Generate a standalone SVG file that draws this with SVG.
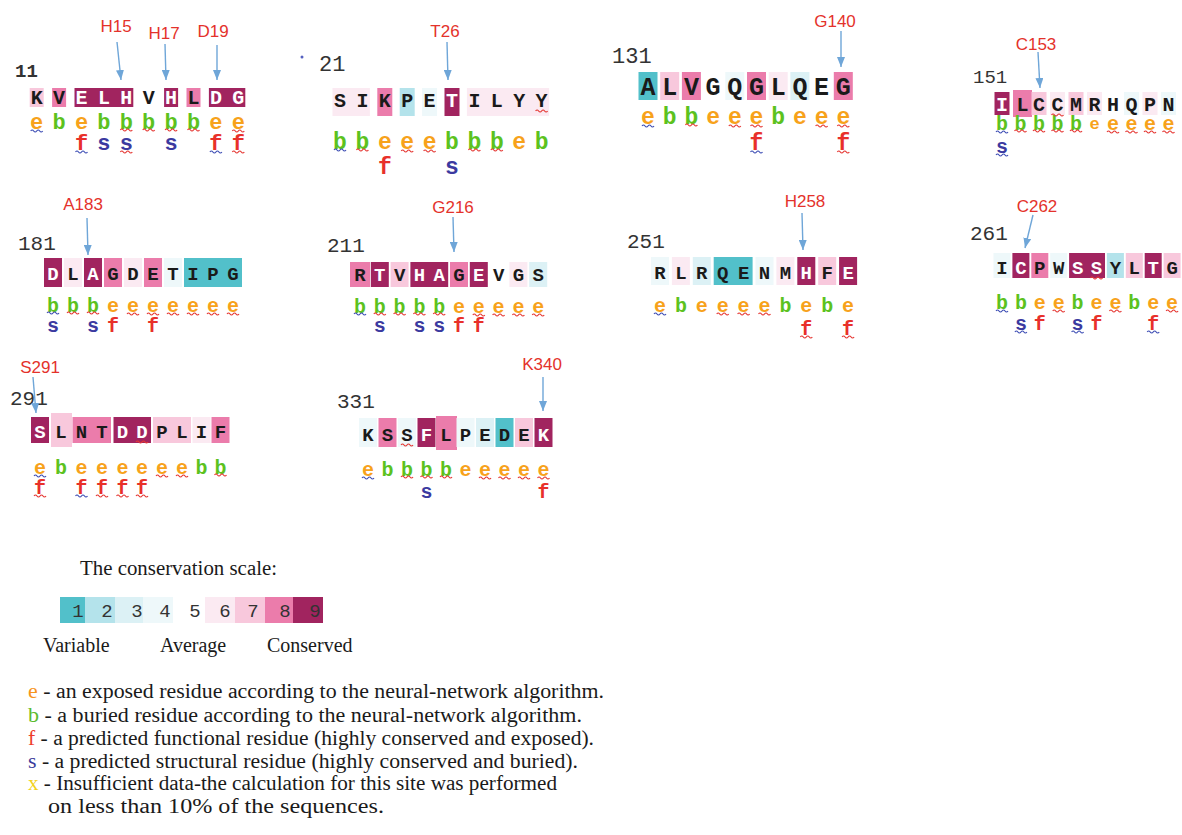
<svg xmlns="http://www.w3.org/2000/svg" xmlns:xlink="http://www.w3.org/1999/xlink" width="1182" height="835" viewBox="0 0 1182 835">
<style>
.g1{fill:#52C0CA}.g2{fill:#B4E3EB}.g3{fill:#DCF1F5}.g4{fill:#EEF8FA}.g6{fill:#FBEAF2}.g7{fill:#F8C8DC}.g8{fill:#EB7CAB}.g9{fill:#A1245F}
.r{font-family:"Liberation Mono",monospace;font-weight:bold;text-anchor:middle;fill:#1a1a1a}
.r .w,.w{fill:#ffffff}
.m{font-family:"Liberation Mono",monospace;font-weight:bold;text-anchor:middle}
.e{fill:#F7A21B}.b{fill:#5CC21E}.f{fill:#E8302A}.s{fill:#3B3AA0}
.num{font-family:"Liberation Mono",monospace;fill:#333}
.lab{font-family:"Liberation Sans",Arial,sans-serif;font-size:17px;fill:#E4322B;text-anchor:middle}
.arr line{stroke:#6FA6D8;stroke-width:1.4;marker-end:url(#ah)}
.wr{stroke:#E53935}.wb{stroke:#3F4FB5}
.leg{font-family:"Liberation Serif","Times New Roman",serif;font-size:20px;fill:#1a1a1a}
.sc{font-family:"Liberation Mono",monospace;font-size:19px;fill:#333;text-anchor:middle}
</style>
<defs>
<marker id="ah" markerUnits="userSpaceOnUse" markerWidth="10" markerHeight="8" refX="10" refY="4" orient="auto"><path d="M0,0 L10,4 L0,8 z" fill="#6FA6D8"/></marker>
<path id="wv" d="M0,0 q1.5,-2 3,0 t3,0 t3,0 t3,0" fill="none" stroke-width="1.2"/>
</defs>
<rect width="1182" height="835" fill="#ffffff"/>

<!-- Block 11 -->
<g id="block-11">
<text class="num" x="15" y="77" font-size="19" font-weight="bold" fill="#555">11</text>
<rect class="g7" x="29.7" y="88" width="14" height="19"/>
<rect class="g8" x="52.1" y="88" width="14" height="19"/>
<rect class="g9" x="74.5" y="88" width="58.8" height="19"/>
<rect class="g9" x="164.1" y="88" width="14" height="19"/>
<rect class="g8" x="186.5" y="88" width="14" height="19"/>
<rect class="g9" x="208.9" y="88" width="36.4" height="19"/>
<g class="r" font-size="20">
<text x="36.7" y="104">K</text><text x="59.1" y="104">V</text><text class="w" x="81.5" y="104">E</text><text class="w" x="103.9" y="104">L</text><text class="w" x="126.3" y="104">H</text><text x="148.7" y="104">V</text><text class="w" x="171.1" y="104">H</text><text x="193.5" y="104">L</text><text class="w" x="215.9" y="104">D</text><text class="w" x="238.3" y="104">G</text>
</g>
<g class="m" font-size="22">
<text class="e" x="36.7" y="129">e</text><text class="b" x="59.1" y="129">b</text><text class="e" x="81.5" y="129">e</text><text class="b" x="103.9" y="129">b</text><text class="b" x="126.3" y="129">b</text><text class="b" x="148.7" y="129">b</text><text class="b" x="171.1" y="129">b</text><text class="b" x="193.5" y="129">b</text><text class="e" x="215.9" y="129">e</text><text class="e" x="238.3" y="129">e</text>
<text class="f" x="81.5" y="150">f</text><text class="s" x="103.9" y="150">s</text><text class="s" x="126.3" y="150">s</text><text class="s" x="171.1" y="150">s</text><text class="f" x="215.9" y="150">f</text><text class="f" x="238.3" y="150">f</text>
</g>
<use xlink:href="#wv" class="wb" x="30.7" y="131"/><use xlink:href="#wv" class="wr" x="120.3" y="130"/><use xlink:href="#wv" class="wr" x="142.7" y="130"/><use xlink:href="#wv" class="wr" x="165.1" y="130"/><use xlink:href="#wv" class="wr" x="187.5" y="130"/><use xlink:href="#wv" class="wr" x="232.3" y="131"/>
<use xlink:href="#wv" class="wb" x="75.5" y="152"/><use xlink:href="#wv" class="wr" x="120.3" y="152"/><use xlink:href="#wv" class="wb" x="209.9" y="152"/><use xlink:href="#wv" class="wr" x="232.3" y="152"/>
</g>

<!-- Block 21 -->
<g id="block-21">
<circle cx="302" cy="57" r="1.5" fill="#5560C0"/>
<text class="num" x="319" y="71" font-size="22">21</text>
<rect class="g6" x="332.5" y="88" width="37.4" height="28"/>
<rect class="g8" x="377.3" y="88" width="15" height="28"/>
<rect class="g2" x="399.7" y="88" width="15" height="28"/>
<rect class="g4" x="422.1" y="88" width="15" height="28"/>
<rect class="g9" x="444.5" y="88" width="15" height="28"/>
<rect class="g6" x="466.9" y="88" width="82.2" height="28"/>
<g class="r" font-size="20">
<text x="340" y="107">S</text><text x="362.4" y="107">I</text><text x="384.8" y="107">K</text><text x="407.2" y="107">P</text><text x="429.6" y="107">E</text><text class="w" x="452" y="107">T</text><text x="474.4" y="107">I</text><text x="496.8" y="107">L</text><text x="519.2" y="107">Y</text><text x="541.6" y="107">Y</text>
</g>
<g class="m" font-size="23">
<text class="b" x="340" y="149">b</text><text class="b" x="362.4" y="149">b</text><text class="e" x="384.8" y="149">e</text><text class="e" x="407.2" y="149">e</text><text class="e" x="429.6" y="149">e</text><text class="b" x="452" y="149">b</text><text class="b" x="474.4" y="149">b</text><text class="b" x="496.8" y="149">b</text><text class="e" x="519.2" y="149">e</text><text class="b" x="541.6" y="149">b</text>
<text class="f" x="384.8" y="174">f</text><text class="s" x="452" y="174">s</text>
</g>
<use xlink:href="#wv" class="wr" x="535.6" y="111"/>
<use xlink:href="#wv" class="wb" x="334" y="150"/><use xlink:href="#wv" class="wr" x="356.4" y="150"/><use xlink:href="#wv" class="wr" x="401.2" y="151"/><use xlink:href="#wv" class="wr" x="423.6" y="151"/><use xlink:href="#wv" class="wr" x="468.4" y="150"/><use xlink:href="#wv" class="wr" x="490.8" y="150"/>
</g>

<!-- Block 131 -->
<g id="block-131">
<text class="num" x="612" y="63" font-size="22">131</text>
<rect class="g1" x="638.5" y="72" width="19" height="28"/>
<rect class="g7" x="660.2" y="72" width="19" height="28"/>
<rect class="g8" x="681.9" y="72" width="19" height="28"/>
<rect class="g4" x="725.3" y="72" width="19" height="28"/>
<rect class="g8" x="747" y="72" width="19" height="28"/>
<rect class="g6" x="768.7" y="72" width="19" height="28"/>
<rect class="g3" x="790.4" y="72" width="19" height="28"/>
<rect class="g8" x="833.8" y="72" width="19" height="28"/>
<g class="r" font-size="25">
<text x="648" y="95">A</text><text x="669.7" y="95">L</text><text x="691.4" y="95">V</text><text x="713.1" y="95">G</text><text x="734.8" y="95">Q</text><text x="756.5" y="95">G</text><text x="778.2" y="95">L</text><text x="799.9" y="95">Q</text><text x="821.6" y="95">E</text><text x="843.3" y="95">G</text>
</g>
<g class="m" font-size="23">
<text class="e" x="648" y="124">e</text><text class="b" x="669.7" y="124">b</text><text class="b" x="691.4" y="124">b</text><text class="e" x="713.1" y="124">e</text><text class="e" x="734.8" y="124">e</text><text class="e" x="756.5" y="124">e</text><text class="b" x="778.2" y="124">b</text><text class="e" x="799.9" y="124">e</text><text class="e" x="821.6" y="124">e</text><text class="e" x="843.3" y="124">e</text>
<text class="f" x="756.5" y="150">f</text><text class="f" x="843.3" y="150">f</text>
</g>
<use xlink:href="#wv" class="wb" x="642" y="126"/><use xlink:href="#wv" class="wr" x="685.4" y="125"/><use xlink:href="#wv" class="wr" x="728.8" y="126"/><use xlink:href="#wv" class="wr" x="750.5" y="126"/><use xlink:href="#wv" class="wr" x="815.6" y="126"/><use xlink:href="#wv" class="wr" x="837.3" y="126"/>
<use xlink:href="#wv" class="wb" x="750.5" y="152"/><use xlink:href="#wv" class="wr" x="837.3" y="152"/>
</g>

<!-- Block 151 -->
<g id="block-151">
<text class="num" x="973" y="83" font-size="19">151</text>
<rect class="g9" x="994.5" y="92" width="15" height="23"/>
<rect class="g8" x="1013" y="90" width="19" height="27"/>
<rect class="g7" x="1031.5" y="92" width="15" height="23"/>
<rect class="g6" x="1050" y="92" width="15" height="23"/>
<rect class="g7" x="1068.5" y="92" width="15" height="23"/>
<rect class="g6" x="1087" y="92" width="15" height="23"/>
<rect class="g4" x="1124" y="92" width="15" height="23"/>
<rect class="g6" x="1142.5" y="92" width="15" height="23"/>
<rect class="g4" x="1161" y="92" width="15" height="23"/>
<g class="r" font-size="20">
<text class="w" x="1002" y="111">I</text><text x="1022.5" y="111">L</text><text x="1039" y="111">C</text><text x="1057.5" y="111">C</text><text x="1076" y="111">M</text><text x="1094.5" y="111">R</text><text x="1113" y="111">H</text><text x="1131.5" y="111">Q</text><text x="1150" y="111">P</text><text x="1168.5" y="111">N</text>
</g>
<g class="m" font-size="20">
<text class="b" x="1002" y="130">b</text><text class="b" x="1020.5" y="130">b</text><text class="b" x="1039" y="130">b</text><text class="b" x="1057.5" y="130">b</text><text class="b" x="1076" y="130">b</text><text class="e" x="1094.5" y="129" font-size="17">e</text><text class="e" x="1113" y="130">e</text><text class="e" x="1131.5" y="130">e</text><text class="e" x="1150" y="130">e</text><text class="e" x="1168.5" y="130">e</text>
<text class="s" x="1002" y="153">s</text>
</g>
<use xlink:href="#wv" class="wr" x="1051.5" y="115"/>
<use xlink:href="#wv" class="wb" x="996" y="132"/><use xlink:href="#wv" class="wr" x="1014.5" y="131"/><use xlink:href="#wv" class="wr" x="1033" y="131"/><use xlink:href="#wv" class="wr" x="1051.5" y="131"/><use xlink:href="#wv" class="wr" x="1070" y="131"/><use xlink:href="#wv" class="wr" x="1107" y="132"/><use xlink:href="#wv" class="wr" x="1125.5" y="132"/><use xlink:href="#wv" class="wr" x="1144" y="132"/><use xlink:href="#wv" class="wr" x="1162.5" y="132"/>
<use xlink:href="#wv" class="wb" x="996" y="155"/>
</g>

<!-- Block 181 -->
<g id="block-181">
<text class="num" x="18" y="250" font-size="21">181</text>
<rect class="g9" x="44" y="258" width="18" height="29"/>
<rect class="g6" x="64" y="258" width="18" height="29"/>
<rect class="g9" x="84" y="258" width="18" height="29"/>
<rect class="g8" x="104" y="258" width="18" height="29"/>
<rect class="g6" x="124" y="258" width="18" height="29"/>
<rect class="g8" x="144" y="258" width="18" height="29"/>
<rect class="g4" x="164" y="258" width="18" height="29"/>
<rect class="g1" x="184" y="258" width="58" height="29"/>
<g class="r" font-size="19">
<text class="w" x="53" y="280">D</text><text x="73" y="280">L</text><text class="w" x="93" y="280">A</text><text x="113" y="280">G</text><text x="133" y="280">D</text><text x="153" y="280">E</text><text x="173" y="280">T</text><text x="193" y="280">I</text><text x="213" y="280">P</text><text x="233" y="280">G</text>
</g>
<g class="m" font-size="20">
<text class="b" x="53" y="312">b</text><text class="b" x="73" y="312">b</text><text class="b" x="93" y="312">b</text><text class="e" x="113" y="312">e</text><text class="e" x="133" y="312">e</text><text class="e" x="153" y="312">e</text><text class="e" x="173" y="312">e</text><text class="e" x="193" y="312">e</text><text class="e" x="213" y="312">e</text><text class="e" x="233" y="312">e</text>
<text class="s" x="53" y="332">s</text><text class="s" x="93" y="332">s</text><text class="f" x="113" y="332">f</text><text class="f" x="153" y="332">f</text>
</g>
<use xlink:href="#wv" class="wb" x="47" y="313"/><use xlink:href="#wv" class="wr" x="67" y="313"/><use xlink:href="#wv" class="wr" x="87" y="313"/><use xlink:href="#wv" class="wr" x="127" y="314"/><use xlink:href="#wv" class="wr" x="147" y="314"/><use xlink:href="#wv" class="wr" x="167" y="314"/><use xlink:href="#wv" class="wr" x="187" y="314"/><use xlink:href="#wv" class="wr" x="207" y="314"/><use xlink:href="#wv" class="wr" x="227" y="314"/>
</g>

<!-- Block 211 -->
<g id="block-211">
<text class="num" x="327" y="252" font-size="21">211</text>
<rect class="g8" x="350" y="262" width="20" height="25"/>
<rect class="g9" x="370.8" y="262" width="18" height="25"/>
<rect class="g7" x="390.6" y="262" width="18" height="25"/>
<rect class="g9" x="410.4" y="262" width="37.8" height="25"/>
<rect class="g8" x="450" y="262" width="18" height="25"/>
<rect class="g9" x="469.8" y="262" width="18" height="25"/>
<rect class="g6" x="509.4" y="262" width="18" height="25"/>
<rect class="g3" x="529.2" y="262" width="18" height="25"/>
<g class="r" font-size="19">
<text x="360" y="281">R</text><text class="w" x="379.8" y="281">T</text><text x="399.6" y="281">V</text><text class="w" x="419.4" y="281">H</text><text class="w" x="439.2" y="281">A</text><text x="459" y="281">G</text><text class="w" x="478.8" y="281">E</text><text x="498.6" y="281">V</text><text x="518.4" y="281">G</text><text x="538.2" y="281">S</text>
</g>
<g class="m" font-size="20">
<text class="b" x="360" y="313">b</text><text class="b" x="379.8" y="313">b</text><text class="b" x="399.6" y="313">b</text><text class="b" x="419.4" y="313">b</text><text class="b" x="439.2" y="313">b</text><text class="e" x="459" y="313">e</text><text class="e" x="478.8" y="313">e</text><text class="e" x="498.6" y="313">e</text><text class="e" x="518.4" y="313">e</text><text class="e" x="538.2" y="313">e</text>
<text class="s" x="379.8" y="332">s</text><text class="s" x="419.4" y="332">s</text><text class="s" x="439.2" y="332">s</text><text class="f" x="459" y="332">f</text><text class="f" x="478.8" y="332">f</text>
</g>
<use xlink:href="#wv" class="wb" x="354" y="314"/><use xlink:href="#wv" class="wr" x="373.8" y="314"/><use xlink:href="#wv" class="wr" x="393.6" y="314"/><use xlink:href="#wv" class="wr" x="413.4" y="314"/><use xlink:href="#wv" class="wr" x="433.2" y="314"/><use xlink:href="#wv" class="wr" x="472.8" y="315"/><use xlink:href="#wv" class="wr" x="492.6" y="315"/><use xlink:href="#wv" class="wr" x="512.4" y="315"/><use xlink:href="#wv" class="wr" x="532.2" y="315"/>
</g>

<!-- Block 251 -->
<g id="block-251">
<text class="num" x="627" y="248" font-size="21">251</text>
<rect class="g4" x="651" y="257" width="18" height="28"/>
<rect class="g6" x="671.9" y="257" width="18" height="28"/>
<rect class="g3" x="692.8" y="257" width="18" height="28"/>
<rect class="g1" x="713.7" y="257" width="38.9" height="28"/>
<rect class="g4" x="755.5" y="257" width="18" height="28"/>
<rect class="g6" x="776.4" y="257" width="18" height="28"/>
<rect class="g9" x="797.3" y="257" width="18" height="28"/>
<rect class="g7" x="818.2" y="257" width="18" height="28"/>
<rect class="g9" x="839.1" y="257" width="18" height="28"/>
<g class="r" font-size="19">
<text x="660" y="279">R</text><text x="680.9" y="279">L</text><text x="701.8" y="279">R</text><text x="722.7" y="279">Q</text><text x="743.6" y="279">E</text><text x="764.5" y="279">N</text><text x="785.4" y="279">M</text><text class="w" x="806.3" y="279">H</text><text x="827.2" y="279">F</text><text class="w" x="848.1" y="279">E</text>
</g>
<g class="m" font-size="20">
<text class="e" x="660" y="312">e</text><text class="b" x="680.9" y="312">b</text><text class="e" x="701.8" y="312">e</text><text class="e" x="722.7" y="312">e</text><text class="e" x="743.6" y="312">e</text><text class="e" x="764.5" y="312">e</text><text class="b" x="785.4" y="312">b</text><text class="e" x="806.3" y="312">e</text><text class="b" x="827.2" y="312">b</text><text class="e" x="848.1" y="312">e</text>
<text class="f" x="806.3" y="335">f</text><text class="f" x="848.1" y="335">f</text>
</g>
<use xlink:href="#wv" class="wb" x="654" y="314"/><use xlink:href="#wv" class="wr" x="716.7" y="314"/><use xlink:href="#wv" class="wr" x="737.6" y="314"/><use xlink:href="#wv" class="wr" x="758.5" y="314"/>
<use xlink:href="#wv" class="wr" x="800.3" y="337"/><use xlink:href="#wv" class="wr" x="842.1" y="337"/>
</g>

<!-- Block 261 -->
<g id="block-261">
<text class="num" x="970" y="240" font-size="21">261</text>
<rect class="g4" x="993.5" y="253" width="17" height="25"/>
<rect class="g9" x="1012.4" y="253" width="17" height="25"/>
<rect class="g8" x="1031.3" y="253" width="17" height="25"/>
<rect class="g4" x="1050.2" y="253" width="17" height="25"/>
<rect class="g9" x="1069.1" y="253" width="35.9" height="25"/>
<rect class="g2" x="1106.9" y="253" width="17" height="25"/>
<rect class="g7" x="1125.8" y="253" width="17" height="25"/>
<rect class="g9" x="1144.7" y="253" width="17" height="25"/>
<rect class="g7" x="1163.6" y="253" width="17" height="25"/>
<g class="r" font-size="19">
<text x="1002" y="274">I</text><text class="w" x="1020.9" y="274">C</text><text x="1039.8" y="274">P</text><text x="1058.7" y="274">W</text><text class="w" x="1077.6" y="274">S</text><text class="w" x="1096.5" y="274">S</text><text x="1115.4" y="274">Y</text><text x="1134.3" y="274">L</text><text class="w" x="1153.2" y="274">T</text><text x="1172.1" y="274">G</text>
</g>
<g class="m" font-size="20">
<text class="b" x="1002" y="309">b</text><text class="b" x="1020.9" y="309">b</text><text class="e" x="1039.8" y="309">e</text><text class="e" x="1058.7" y="309">e</text><text class="b" x="1077.6" y="309">b</text><text class="e" x="1096.5" y="309">e</text><text class="e" x="1115.4" y="309">e</text><text class="b" x="1134.3" y="309">b</text><text class="e" x="1153.2" y="309">e</text><text class="e" x="1172.1" y="309">e</text>
<text class="s" x="1020.9" y="330">s</text><text class="f" x="1039.8" y="330">f</text><text class="s" x="1077.6" y="330">s</text><text class="f" x="1096.5" y="330">f</text><text class="f" x="1153.2" y="330">f</text>
</g>
<use xlink:href="#wv" class="wr" x="1090.5" y="278"/>
<use xlink:href="#wv" class="wb" x="996" y="311"/><use xlink:href="#wv" class="wr" x="1052.7" y="311"/><use xlink:href="#wv" class="wr" x="1109.4" y="311"/><use xlink:href="#wv" class="wr" x="1166.1" y="311"/>
<use xlink:href="#wv" class="wb" x="1014.9" y="332"/><use xlink:href="#wv" class="wb" x="1071.6" y="332"/><use xlink:href="#wv" class="wb" x="1147.2" y="332"/>
</g>

<!-- Block 291 -->
<g id="block-291">
<text class="num" x="10" y="405" font-size="21">291</text>
<rect class="g9" x="31" y="417" width="18" height="26"/>
<rect class="g7" x="51" y="413" width="21" height="34"/>
<rect class="g8" x="72.5" y="417" width="38.5" height="26"/>
<rect class="g9" x="113.5" y="417" width="37.5" height="26"/>
<rect class="g7" x="153" y="417" width="38" height="26"/>
<rect class="g6" x="192.5" y="417" width="18" height="26"/>
<rect class="g8" x="211.5" y="417" width="18" height="26"/>
<g class="r" font-size="19">
<text class="w" x="40" y="438">S</text><text x="61" y="438">L</text><text x="81.5" y="438">N</text><text x="102" y="438">T</text><text class="w" x="122.5" y="438">D</text><text class="w" x="142" y="438">D</text><text x="162" y="438">P</text><text x="182" y="438">L</text><text x="201.5" y="438">I</text><text x="220.5" y="438">F</text>
</g>
<g class="m" font-size="20">
<text class="e" x="40" y="474">e</text><text class="b" x="61" y="474">b</text><text class="e" x="81.5" y="474">e</text><text class="e" x="102" y="474">e</text><text class="e" x="122.5" y="474">e</text><text class="e" x="142" y="474">e</text><text class="e" x="162" y="474">e</text><text class="e" x="182" y="474">e</text><text class="b" x="201.5" y="474">b</text><text class="b" x="220.5" y="474">b</text>
<text class="f" x="40" y="494">f</text><text class="f" x="81.5" y="494">f</text><text class="f" x="102" y="494">f</text><text class="f" x="122.5" y="494">f</text><text class="f" x="142" y="494">f</text>
</g>
<use xlink:href="#wv" class="wr" x="136" y="442"/>
<use xlink:href="#wv" class="wb" x="34" y="476"/><use xlink:href="#wv" class="wr" x="156" y="476"/><use xlink:href="#wv" class="wr" x="176" y="476"/><use xlink:href="#wv" class="wr" x="214.5" y="475"/>
<use xlink:href="#wv" class="wr" x="34" y="496"/><use xlink:href="#wv" class="wb" x="75.5" y="496"/><use xlink:href="#wv" class="wr" x="96" y="496"/><use xlink:href="#wv" class="wr" x="116.5" y="496"/><use xlink:href="#wv" class="wr" x="136" y="496"/>
</g>

<!-- Block 331 -->
<g id="block-331">
<text class="num" x="337" y="408" font-size="21">331</text>
<rect class="g4" x="359" y="418" width="18" height="29"/>
<rect class="g8" x="378.5" y="418" width="18" height="29"/>
<rect class="g4" x="398" y="418" width="18" height="29"/>
<rect class="g9" x="417.5" y="418" width="18" height="29"/>
<rect class="g8" x="436" y="416" width="21" height="34"/>
<rect class="g4" x="456.5" y="418" width="18" height="29"/>
<rect class="g3" x="476" y="418" width="18" height="29"/>
<rect class="g1" x="495.5" y="418" width="18" height="29"/>
<rect class="g7" x="515" y="418" width="18" height="29"/>
<rect class="g9" x="534.5" y="418" width="18" height="29"/>
<g class="r" font-size="19">
<text x="368" y="441">K</text><text x="387.5" y="441">S</text><text x="407" y="441">S</text><text class="w" x="426.5" y="441">F</text><text x="446" y="441">L</text><text x="465.5" y="441">P</text><text x="485" y="441">E</text><text x="504.5" y="441">D</text><text x="524" y="441">E</text><text class="w" x="543.5" y="441">K</text>
</g>
<g class="m" font-size="20">
<text class="e" x="368" y="476">e</text><text class="b" x="387.5" y="476">b</text><text class="b" x="407" y="476">b</text><text class="b" x="426.5" y="476">b</text><text class="b" x="446" y="476">b</text><text class="e" x="465.5" y="476">e</text><text class="e" x="485" y="476">e</text><text class="e" x="504.5" y="476">e</text><text class="e" x="524" y="476">e</text><text class="e" x="543.5" y="476">e</text>
<text class="s" x="426.5" y="498">s</text><text class="f" x="543.5" y="498">f</text>
</g>
<use xlink:href="#wv" class="wr" x="401" y="445"/>
<use xlink:href="#wv" class="wb" x="362" y="478"/><use xlink:href="#wv" class="wr" x="401" y="477"/><use xlink:href="#wv" class="wr" x="420.5" y="477"/><use xlink:href="#wv" class="wr" x="440" y="477"/><use xlink:href="#wv" class="wr" x="479" y="478"/><use xlink:href="#wv" class="wr" x="498.5" y="478"/><use xlink:href="#wv" class="wr" x="518" y="478"/><use xlink:href="#wv" class="wr" x="537.5" y="478"/>
</g>

<!-- Site labels -->
<g id="label-H15"><text class="lab" x="116" y="32">H15</text></g>
<g id="label-H17"><text class="lab" x="164" y="39">H17</text></g>
<g id="label-D19"><text class="lab" x="213" y="37">D19</text></g>
<g id="label-T26"><text class="lab" x="445" y="37">T26</text></g>
<g id="label-G140"><text class="lab" x="835" y="27">G140</text></g>
<g id="label-C153"><text class="lab" x="1036" y="50">C153</text></g>
<g id="label-A183"><text class="lab" x="83" y="210">A183</text></g>
<g id="label-G216"><text class="lab" x="453" y="213">G216</text></g>
<g id="label-H258"><text class="lab" x="805" y="207">H258</text></g>
<g id="label-C262"><text class="lab" x="1037" y="212">C262</text></g>
<g id="label-S291"><text class="lab" x="40" y="373">S291</text></g>
<g id="label-K340"><text class="lab" x="542" y="370">K340</text></g>

<!-- Connectors -->
<g id="connectors" class="arr">
<line x1="117" y1="42" x2="121" y2="80"/>
<line x1="165" y1="44" x2="166" y2="80"/>
<line x1="217" y1="45" x2="217" y2="80"/>
<line x1="447" y1="42" x2="448" y2="80"/>
<line x1="841" y1="31" x2="841" y2="67"/>
<line x1="1038" y1="52" x2="1040" y2="88"/>
<line x1="87" y1="218" x2="88" y2="255"/>
<line x1="453" y1="217" x2="454" y2="252"/>
<line x1="802" y1="213" x2="803" y2="250"/>
<line x1="1033" y1="215" x2="1025" y2="248"/>
<line x1="33" y1="377" x2="36" y2="413"/>
<line x1="543" y1="377" x2="543" y2="411"/>
</g>

<!-- Conservation scale -->
<g id="scale">
<text class="leg" x="80" y="575" textLength="197" lengthAdjust="spacingAndGlyphs">The conservation scale:</text>
<rect class="g1" x="60" y="597" width="25" height="26"/>
<rect class="g2" x="85" y="597" width="30" height="26"/>
<rect class="g3" x="115" y="597" width="28" height="26"/>
<rect class="g4" x="143" y="597" width="30" height="26"/>
<rect fill="#ffffff" x="173" y="597" width="32" height="26"/>
<rect class="g6" x="205" y="597" width="30" height="26"/>
<rect class="g7" x="235" y="597" width="30" height="26"/>
<rect class="g8" x="265" y="597" width="28" height="26"/>
<rect class="g9" x="293" y="597" width="30" height="26"/>
<text class="sc" x="78" y="617">1</text><text class="sc" x="107" y="617">2</text><text class="sc" x="137" y="617">3</text><text class="sc" x="165" y="617">4</text><text class="sc" x="195" y="617">5</text><text class="sc" x="225" y="617">6</text><text class="sc" x="253" y="617">7</text><text class="sc" x="285" y="617">8</text><text class="sc w" x="315" y="617">9</text>
<text class="leg" x="43" y="652">Variable</text>
<text class="leg" x="160" y="652">Average</text>
<text class="leg" x="267" y="652">Conserved</text>
</g>

<!-- Key -->
<g id="key" class="leg">
<text x="28" y="698" textLength="576" lengthAdjust="spacingAndGlyphs"><tspan fill="#F7941D">e</tspan> - an exposed residue according to the neural-network algorithm.</text>
<text x="28" y="722" textLength="554" lengthAdjust="spacingAndGlyphs"><tspan fill="#5BBB2F">b</tspan> - a buried residue according to the neural-network algorithm.</text>
<text x="28" y="745" textLength="566" lengthAdjust="spacingAndGlyphs"><tspan fill="#EE3B2B">f</tspan> - a predicted functional residue (highly conserved and exposed).</text>
<text x="28" y="768" textLength="550" lengthAdjust="spacingAndGlyphs"><tspan fill="#3B3B9B">s</tspan> - a predicted structural residue (highly conserved and buried).</text>
<text x="28" y="790" textLength="529" lengthAdjust="spacingAndGlyphs"><tspan fill="#F2D21A">x</tspan> - Insufficient data-the calculation for this site was performed</text>
<text x="48" y="813" textLength="336" lengthAdjust="spacingAndGlyphs">on less than 10% of the sequences.</text>
</g>
</svg>
